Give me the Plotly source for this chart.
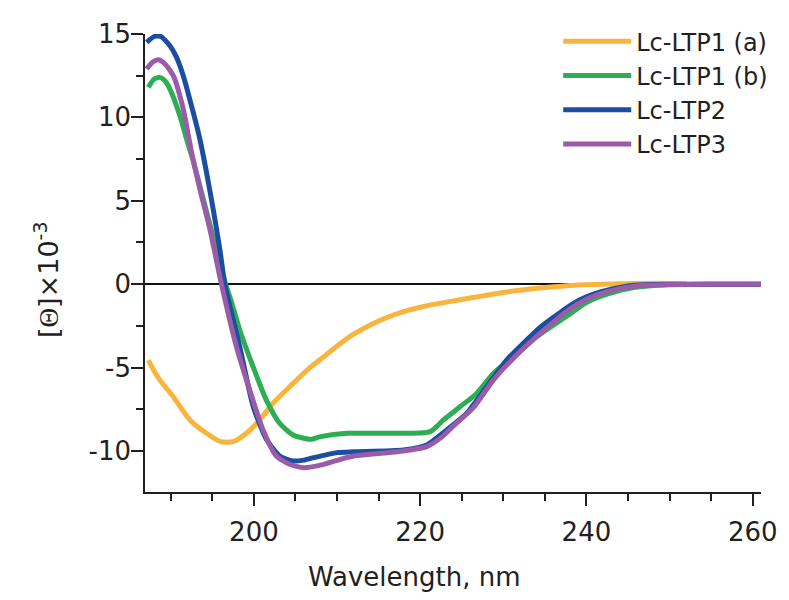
import plotly.graph_objects as go

# ---- data ----
series_names = ["Lc-LTP1 (a)", "Lc-LTP1 (b)", "Lc-LTP2", "Lc-LTP3"]
series_colors = ["#F9B43E", "#2DAE52", "#1B4DA1", "#9A5BA9"]

ltp1a_x = [187.3, 188.0, 188.7, 190.3, 192.3, 194.3, 196.0, 197.5, 199.1, 200.7, 202.3, 204.3,
           206.4, 208.4, 210.4, 212.0, 214.0, 216.0, 218.0, 220.0, 222.0, 224.0, 226.0, 228.0,
           230.0, 232.0, 234.0, 236.0, 238.0, 240.0, 244.0, 248.0, 252.0]
ltp1a_y = [-4.55, -5.2, -5.75, -6.75, -8.14, -8.94, -9.44, -9.44, -8.94, -8.14, -7.14, -6.15,
           -5.15, -4.35, -3.55, -3.0, -2.45, -2.0, -1.65, -1.38, -1.18, -1.0, -0.83, -0.66,
           -0.5, -0.36, -0.25, -0.16, -0.08, -0.03, 0.02, 0.05, 0.03]

ltp1b_x = [187.3, 188.0, 188.7, 189.3, 189.9, 191.1, 191.9, 192.7, 193.5, 194.7, 196.6, 197.2,
           198.3, 199.9, 201.5, 203.1, 204.7, 206.8, 208.0, 211.2, 216.0, 221.2, 222.8, 224.8,
           226.8, 228.8, 231.2, 234.0, 237.8, 240.0, 242.5, 245.7, 250.0, 255.0, 261.0]
ltp1b_y = [11.8, 12.3, 12.4, 12.2, 11.7, 10.1, 8.7, 7.4, 5.9, 3.6, 0.0, -0.9,
           -2.75, -4.95, -6.95, -8.34, -9.04, -9.3, -9.14, -8.94, -8.94, -8.84, -8.14, -7.35,
           -6.55, -5.35, -4.35, -3.15, -1.86, -1.1, -0.6, -0.2, -0.03, 0.0, 0.0]

ltp2_x = [187.1, 188.0, 188.8, 189.9, 190.7, 191.5, 192.7, 193.5, 194.3, 195.1, 195.9, 196.5,
          198.3, 199.9, 201.5, 203.1, 204.7, 206.0, 207.2, 210.0, 212.0, 218.0, 220.8, 223.2,
          225.6, 228.0, 230.4, 232.8, 234.4, 236.0, 238.4, 240.0, 242.5, 245.7, 250.0, 255.0, 261.0]
ltp2_y = [14.5, 14.85, 14.85, 14.3, 13.6, 12.5, 10.3, 8.7, 6.7, 4.5, 2.1, 0.0,
          -3.75, -7.3, -9.3, -10.3, -10.6, -10.55, -10.4, -10.1, -10.05, -9.94, -9.64, -8.74,
          -7.74, -6.15, -4.55, -3.35, -2.6, -2.0, -1.16, -0.75, -0.36, -0.06, 0.0, 0.0, 0.0]

ltp3_x = [187.1, 187.8, 188.5, 189.3, 190.3, 191.5, 192.5, 193.5, 194.7, 196.1, 197.9, 199.5,
          201.1, 202.7, 204.3, 206.0, 208.4, 210.4, 212.0, 215.0, 218.0, 220.8, 222.5, 224.0,
          226.4, 228.8, 231.2, 234.0, 237.8, 240.0, 242.5, 245.7, 250.0, 255.0, 261.0]
ltp3_y = [12.9, 13.3, 13.45, 13.2, 12.5, 10.5, 7.9, 5.7, 3.3, 0.0, -3.75, -6.35,
          -8.74, -10.3, -10.8, -11.0, -10.8, -10.5, -10.3, -10.15, -10.0, -9.74, -9.2, -8.5,
          -7.4, -5.75, -4.45, -3.15, -1.56, -0.9, -0.45, -0.12, -0.02, 0.0, 0.0]

x_tickvals = [200, 220, 240, 260]
x_ticktext = ["200", "220", "240", "260"]
y_tickvals = [-10, -5, 0, 5, 10, 15]
y_ticktext = ["-10", "-5", "0", "5", "10", "15"]

x_title = "Wavelength, nm"
y_title = "[<span style='font-family:Liberation Serif'>Θ</span>]×10<sup>-3</sup>"

xs = [ltp1a_x, ltp1b_x, ltp2_x, ltp3_x]
ys = [ltp1a_y, ltp1b_y, ltp2_y, ltp3_y]

FONT = "DejaVu Sans"
TXT = "#231f20"

fig = go.Figure()
for name, color, x, y in zip(series_names, series_colors, xs, ys):
    fig.add_trace(go.Scatter(
        x=x, y=y, mode="lines", name=name,
        line=dict(color=color, width=5, shape="spline", smoothing=0.6),
    ))

# the page body has an 8px default margin, so the figure is made 8px smaller
fig.update_layout(
    width=781, height=592,
    margin=dict(l=137, r=28, t=26, b=108, autoexpand=False),
    paper_bgcolor="white", plot_bgcolor="white",
    font=dict(family=FONT, color=TXT, size=24),
    showlegend=True,
    legend=dict(
        xref="container", yref="container",
        x=0.7045, y=0.981, xanchor="left", yanchor="top",
        font=dict(family=FONT, size=24, color=TXT),
        bgcolor="rgba(0,0,0,0)", tracegroupgap=0, itemwidth=68,
    ),
    xaxis=dict(
        range=[186.9, 261.0],
        tickvals=x_tickvals, ticktext=x_ticktext,
        showgrid=False, zeroline=False,
        showline=True, linecolor=TXT, linewidth=1.5,
        ticks="outside", ticklen=12, tickwidth=1.5, tickcolor=TXT,
        minor=dict(dtick=5, tick0=200, ticks="outside", ticklen=7, tickwidth=1.5, tickcolor=TXT),
        tickfont=dict(family=FONT, size=26, color=TXT),
        ticklabelstandoff=4,
    ),
    yaxis=dict(
        range=[-12.46, 15.0],
        tickvals=y_tickvals, ticktext=y_ticktext,
        showgrid=False,
        zeroline=True, zerolinecolor="#111111", zerolinewidth=1.8,
        showline=True, linecolor=TXT, linewidth=1.5,
        ticks="outside", ticklen=12, tickwidth=1.5, tickcolor=TXT,
        minor=dict(dtick=2.5, tick0=0, ticks="outside", ticklen=7, tickwidth=1.5, tickcolor=TXT),
        tickfont=dict(family=FONT, size=26, color=TXT),
        ticklabelstandoff=-5,
    ),
    annotations=[
        dict(text=x_title, xref="paper", yref="paper", x=0.437, y=-0.186,
             xanchor="center", yanchor="middle", showarrow=False,
             font=dict(family=FONT, size=26, color=TXT)),
        dict(text=y_title, xref="paper", yref="paper", x=-0.159, y=0.463,
             xanchor="center", yanchor="middle", showarrow=False, textangle=-90,
             font=dict(family=FONT, size=27, color=TXT)),
    ],
)

fig.write_html("out.html")
